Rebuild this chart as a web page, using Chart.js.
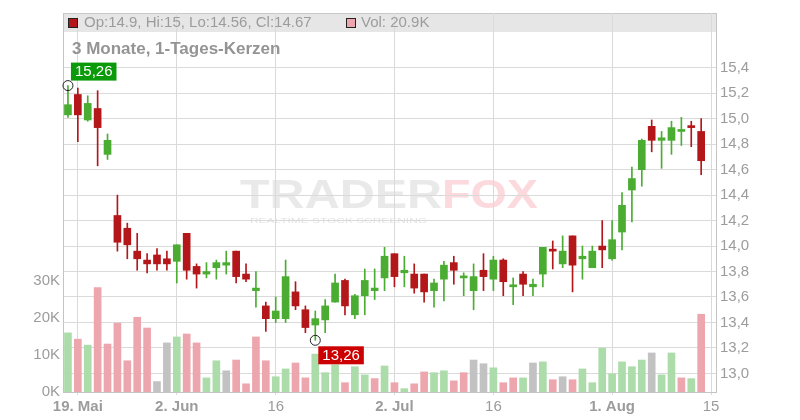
<!DOCTYPE html>
<html>
<head>
<meta charset="utf-8">
<title>3 Monate, 1-Tages-Kerzen</title>
<script src="https://cdn.jsdelivr.net/npm/chart.js"></script>
<style>
  html, body { margin: 0; padding: 0; background: #fff; }
</style>
</head>
<body>
<canvas id="chart" width="800" height="420"></canvas>
<script>
// Handelstage 16.05. – 15.08.2025 (15.08. ohne Kerze)
const dates = [
  '2025-05-16', '2025-05-19', '2025-05-20', '2025-05-21', '2025-05-22', '2025-05-23',
  '2025-05-26', '2025-05-27', '2025-05-28', '2025-05-29', '2025-05-30',
  '2025-06-02', '2025-06-03', '2025-06-04', '2025-06-05', '2025-06-06',
  '2025-06-09', '2025-06-10', '2025-06-11', '2025-06-12', '2025-06-13',
  '2025-06-16', '2025-06-17', '2025-06-18', '2025-06-19', '2025-06-20',
  '2025-06-23', '2025-06-24', '2025-06-25', '2025-06-26', '2025-06-27',
  '2025-06-30', '2025-07-01', '2025-07-02', '2025-07-03', '2025-07-04',
  '2025-07-07', '2025-07-08', '2025-07-09', '2025-07-10', '2025-07-11',
  '2025-07-14', '2025-07-15', '2025-07-16', '2025-07-17', '2025-07-18',
  '2025-07-21', '2025-07-22', '2025-07-23', '2025-07-24', '2025-07-25',
  '2025-07-28', '2025-07-29', '2025-07-30', '2025-07-31', '2025-08-01',
  '2025-08-04', '2025-08-05', '2025-08-06', '2025-08-07', '2025-08-08',
  '2025-08-11', '2025-08-12', '2025-08-13', '2025-08-14', '2025-08-15'
];

const opens = [
  15.03, 15.19, 14.99, 15.08, 14.72, 14.24, 14.14, 13.96, 13.89, 13.93, 13.90,
  13.88, 14.10, 13.84, 13.78, 13.83, 13.85, 13.96, 13.78, 13.65, 13.53,
  13.43, 13.43, 13.64, 13.50, 13.38, 13.42, 13.56, 13.73, 13.46, 13.61,
  13.65, 13.75, 13.94, 13.79, 13.78, 13.78, 13.65, 13.74, 13.87, 13.75,
  13.65, 13.81, 13.74, 13.89, 13.68, 13.78, 13.68, 13.78, 13.97, 13.86,
  14.08, 13.90, 13.83, 14.00, 13.90, 14.11, 14.44, 14.60, 14.94, 14.83,
  14.83, 14.90, 14.94, 14.90
];
const highs = [
  15.26, 15.24, 15.18, 15.22, 14.88, 14.40, 14.18, 14.10, 13.94, 13.98, 13.96,
  14.01, 14.10, 13.86, 13.87, 13.89, 13.96, 13.96, 13.86, 13.80, 13.56,
  13.60, 13.89, 13.72, 13.53, 13.49, 13.58, 13.78, 13.74, 13.62, 13.82,
  13.82, 13.99, 13.94, 13.92, 13.86, 13.78, 13.74, 13.88, 13.92, 13.79,
  13.86, 13.94, 13.92, 13.90, 13.75, 13.80, 13.74, 13.99, 14.04, 14.08,
  14.08, 14.00, 14.00, 14.20, 14.20, 14.42, 14.62, 14.84, 14.99, 14.90,
  14.98, 15.01, 14.98, 15.00
];
const lows = [
  15.01, 14.82, 14.98, 14.63, 14.68, 13.96, 13.90, 13.81, 13.79, 13.81, 13.81,
  13.71, 13.74, 13.67, 13.75, 13.74, 13.78, 13.71, 13.72, 13.52, 13.33,
  13.40, 13.40, 13.50, 13.32, 13.26, 13.32, 13.56, 13.46, 13.43, 13.46,
  13.58, 13.65, 13.68, 13.68, 13.63, 13.56, 13.52, 13.57, 13.70, 13.61,
  13.50, 13.65, 13.65, 13.61, 13.54, 13.61, 13.61, 13.68, 13.82, 13.83,
  13.64, 13.74, 13.83, 13.83, 13.89, 13.97, 14.19, 14.47, 14.74, 14.61,
  14.72, 14.79, 14.78, 14.56
];
const closes = [
  15.11, 15.03, 15.12, 14.93, 14.83, 14.03, 14.01, 13.90, 13.86, 13.86, 13.86,
  14.01, 13.81, 13.78, 13.80, 13.87, 13.87, 13.76, 13.74, 13.67, 13.43,
  13.49, 13.76, 13.53, 13.36, 13.43, 13.53, 13.71, 13.53, 13.61, 13.73,
  13.67, 13.92, 13.76, 13.81, 13.67, 13.64, 13.71, 13.85, 13.81, 13.76,
  13.76, 13.76, 13.89, 13.72, 13.69, 13.70, 13.70, 13.99, 13.96, 13.96,
  13.85, 13.92, 13.96, 13.97, 14.05, 14.32, 14.53, 14.83, 14.83, 14.85,
  14.93, 14.91, 14.93, 14.67
];
// Volumen in Tausend
const volumes = [
  15.9, 14.2, 12.6, 28.1, 12.9, 18.5, 8.4, 20.1, 17.2, 2.8, 13.2,
  14.8, 15.6, 13.2, 3.8, 8.4, 5.7, 8.6, 2.2, 14.8, 8.4,
  4.1, 6.2, 7.8, 3.8, 10.2, 5.2, 7.3, 2.5, 6.8, 4.6,
  3.6, 7.0, 2.5, 0.9, 2.2, 5.4, 5.2, 5.7, 3.0, 5.2,
  8.6, 7.6, 6.5, 2.5, 3.8, 3.8, 7.8, 8.1, 3.3, 4.1,
  3.3, 6.2, 2.5, 11.8, 4.9, 8.1, 6.8, 8.6, 10.5, 4.6,
  10.5, 3.8, 3.6, 20.9
];

const tickDates = ['2025-05-19', '2025-06-02', '2025-06-16', '2025-07-02', '2025-07-16', '2025-08-01', '2025-08-15'];
const tickTexts = ['19. Mai', '2. Jun', '16', '2. Jul', '16', '1. Aug', '15'];
const tickBold  = [true, true, false, true, false, true, false];
const priceTicks = [13.0, 13.2, 13.4, 13.6, 13.8, 14.0, 14.2, 14.4, 14.6, 14.8, 15.0, 15.2, 15.4];
const volTicks = [0, 10, 20, 30];

const RED = '#b3171a', GREEN = '#4aad32';
const VOL_RED = '#eea6ae', VOL_GREEN = '#acdcaa', VOL_GRAY = '#c2c2c2';
const TXT = '#9c9c9c';
const FONT = '"Liberation Sans", Arial, sans-serif';

const candleColors = opens.map((o, i) => closes[i] >= o ? GREEN : RED);
const volColors = closes.map((c, i) => {
  if (i === 0 || c > closes[i - 1]) return VOL_GREEN;
  if (c < closes[i - 1]) return VOL_RED;
  return VOL_GRAY;
});

function tickIdx(i) { return tickDates.indexOf(dates[i]); }

const chartDeco = {
  id: 'chartDeco',
  beforeDraw(chart) {
    const { ctx, chartArea: a } = chart;
    ctx.save();
    ctx.fillStyle = '#fff';
    ctx.fillRect(0, 0, chart.width, chart.height);
    // Kopfzeile
    ctx.fillStyle = '#e6e6e6';
    ctx.fillRect(a.left, a.top, a.right - a.left, 19);
    ctx.strokeStyle = '#c8c8c8';
    ctx.lineWidth = 1;
    ctx.beginPath();
    ctx.moveTo(a.left, a.top + 0.5);
    ctx.lineTo(a.right, a.top + 0.5);
    ctx.stroke();

    // Wasserzeichen
    ctx.textBaseline = 'alphabetic';
    ctx.font = 'bold 41px ' + FONT;
    let w = ctx.measureText('TRADER').width;
    ctx.save();
    ctx.translate(240, 208);
    ctx.scale(202 / w, 1);
    ctx.fillStyle = 'rgba(200,200,200,0.4)';
    ctx.fillText('TRADER', 0, 0);
    ctx.restore();
    w = ctx.measureText('FOX').width;
    ctx.save();
    ctx.translate(442, 208);
    ctx.scale(96 / w, 1);
    ctx.fillStyle = 'rgba(245,160,170,0.4)';
    ctx.fillText('FOX', 0, 0);
    ctx.restore();
    ctx.font = '8px ' + FONT;
    w = ctx.measureText('REALTIME STOCK SCREENING').width;
    ctx.save();
    ctx.translate(250, 223);
    ctx.scale(177 / w, 1);
    ctx.fillStyle = 'rgba(200,200,200,0.55)';
    ctx.fillText('REALTIME STOCK SCREENING', 0, 0);
    ctx.restore();
    ctx.restore();
  },
  afterDraw(chart) {
    const { ctx, chartArea: a } = chart;
    const x = chart.scales.x, y = chart.scales.y;
    const last = opens.length - 1;
    ctx.save();
    // Legende oben
    ctx.textBaseline = 'middle';
    ctx.font = '15px ' + FONT;
    ctx.fillStyle = candleColors[last];
    ctx.fillRect(a.left + 5, a.top + 5, 9, 9);
    ctx.strokeStyle = '#222';
    ctx.strokeRect(a.left + 5.5, a.top + 5.5, 9, 9);
    ctx.fillStyle = TXT;
    ctx.fillText('Op:' + opens[last] + ', Hi:' + highs[last] + ', Lo:' + lows[last] + ', Cl:' + closes[last], a.left + 21, a.top + 10);
    ctx.fillStyle = volColors[last];
    ctx.fillRect(a.left + 283, a.top + 5, 9, 9);
    ctx.strokeRect(a.left + 283.5, a.top + 5.5, 9, 9);
    ctx.fillStyle = TXT;
    ctx.fillText('Vol: ' + volumes[last] + 'K', a.left + 298, a.top + 10);

    // Titel
    ctx.font = 'bold 17px ' + FONT;
    ctx.fillStyle = '#949494';
    ctx.fillText('3 Monate, 1-Tages-Kerzen', a.left + 9, a.top + 36);

    // Hoch / Tief Marken
    let hi = 0, lo = 0;
    highs.forEach((h, i) => { if (h > highs[hi]) hi = i; });
    lows.forEach((l, i) => { if (l < lows[lo]) lo = i; });
    const marks = [
      { i: hi, v: highs[hi], color: '#0a9a0a', dx: 3, dy: -23 },
      { i: lo, v: lows[lo], color: '#cc0000', dx: 3, dy: 6 }
    ];
    ctx.font = '15px ' + FONT;
    marks.forEach(m => {
      const px = x.getPixelForValue(m.i), py = y.getPixelForValue(m.v);
      ctx.beginPath();
      ctx.arc(px, py, 5, 0, Math.PI * 2);
      ctx.strokeStyle = '#222';
      ctx.lineWidth = 1;
      ctx.stroke();
      const txt = m.v.toFixed(2).replace('.', ',');
      const bw = ctx.measureText(txt).width + 8;
      ctx.fillStyle = m.color;
      ctx.fillRect(px + m.dx, py + m.dy, bw, 18);
      ctx.fillStyle = '#fff';
      ctx.textAlign = 'left';
      ctx.fillText(txt, px + m.dx + 4, py + m.dy + 9.5);
    });
    ctx.restore();
  }
};

new Chart(document.getElementById('chart'), {
  type: 'bar',
  data: {
    labels: dates,
    datasets: [
      {
        label: 'Docht',
        data: lows.map((l, i) => [l, highs[i]]),
        backgroundColor: candleColors,
        barThickness: 1,
        grouped: false,
        yAxisID: 'y',
        order: 2
      },
      {
        label: 'Kerze',
        data: opens.map((o, i) => [o, closes[i]]),
        backgroundColor: candleColors,
        barThickness: 7,
        minBarLength: 2,
        grouped: false,
        yAxisID: 'y',
        order: 1
      },
      {
        label: 'Volumen',
        data: volumes,
        backgroundColor: volColors,
        barThickness: 7,
        grouped: false,
        yAxisID: 'vol',
        order: 3
      }
    ]
  },
  options: {
    responsive: false,
    animation: false,
    devicePixelRatio: 1,
    layout: { padding: { top: 11, left: 0, right: 0, bottom: 0 } },
    plugins: { legend: { display: false }, tooltip: { enabled: false } },
    scales: {
      x: {
        type: 'category',
        offset: true,
        grid: {
          offset: false,
          color: c => tickIdx(c.index) >= 0 ? '#dadada' : 'rgba(0,0,0,0)',
          tickLength: 3
        },
        border: { color: '#c4c4c4' },
        ticks: {
          autoSkip: false,
          maxRotation: 0,
          padding: 3,
          color: TXT,
          callback: (v, i) => { const k = tickIdx(i); return k >= 0 ? tickTexts[k] : ''; },
          font: c => {
            const k = tickIdx(c.index);
            return { family: FONT, size: 15, weight: (k >= 0 && tickBold[k]) ? 'bold' : 'normal' };
          }
        },
        afterFit: s => { s.height = 28; }
      },
      y: {
        position: 'right',
        min: 12.854,
        max: 15.83,
        grid: { color: '#dadada', drawTicks: false },
        border: { color: '#c4c4c4' },
        afterBuildTicks: s => { s.ticks = priceTicks.map(v => ({ value: v })); },
        ticks: {
          padding: 4,
          color: TXT,
          font: { family: FONT, size: 15 },
          callback: v => v.toFixed(1).replace('.', ',')
        },
        afterFit: s => { s.width = 84; }
      },
      vol: {
        position: 'left',
        min: 0,
        max: 101.9,
        grid: { display: false, drawTicks: false },
        border: { color: '#c4c4c4' },
        afterBuildTicks: s => { s.ticks = volTicks.map(v => ({ value: v })); },
        ticks: {
          padding: 3,
          color: TXT,
          font: { family: FONT, size: 15 },
          callback: v => v + 'K'
        },
        afterFit: s => { s.width = 63; }
      }
    }
  },
  plugins: [chartDeco]
});
</script>
</body>
</html>
